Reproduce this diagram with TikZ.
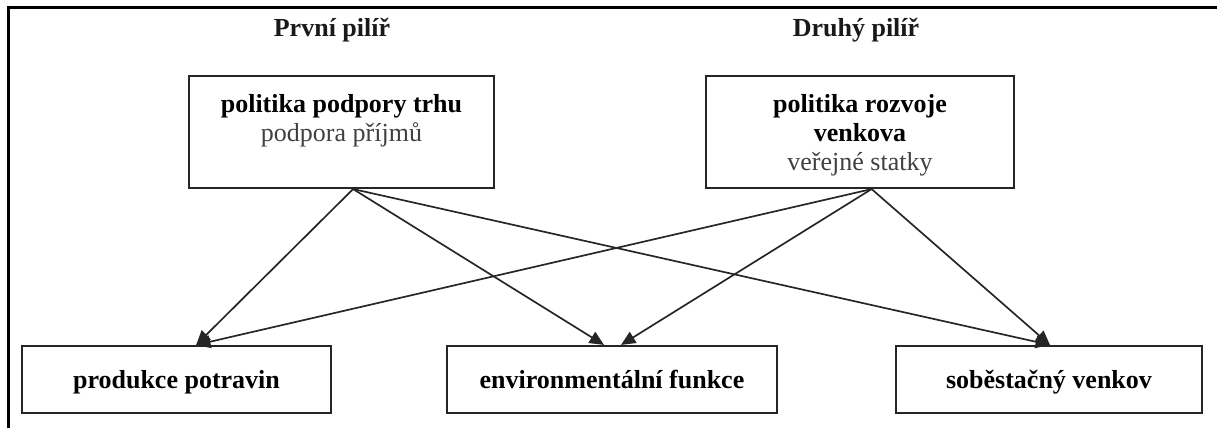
\documentclass[tikz,border=0pt]{standalone}
\usepackage{xcolor}
\usepackage{fontspec}
\setmainfont{Liberation Serif}
\usetikzlibrary{arrows.meta}
\tikzset{>=stealth}
\tikzset{
  box/.style={draw=black!85, line width=1.5pt, inner sep=0pt, font=\fontsize{18.5}{20.5}\selectfont},
  low/.style={minimum height=1.675cm, text height=0.6cm, text depth=0.14cm},
  pillar/.style={font=\fontsize{18.5}{20.5}\selectfont\bfseries, text=black!90},
  link/.style={-{Triangle[length=3.6mm,width=3.2mm]}, line width=1.2pt, draw=black!85},
}

\begin{document}
\begin{tikzpicture}
      \useasboundingbox (0,0) rectangle (30.425,10.7);
      \draw[line width=2.8pt] (0.2125,0) -- (0.2125,10.5125) -- (30.425,10.5125);
      \node[pillar] (prvni) at (8.3,9.95) {První pilíř};
      \node[pillar] (druhy) at (21.4,9.95) {Druhý pilíř};
      \node[box, minimum width=7.625cm] (trh) at (8.5375,7.4)
        {\parbox[c][2.8cm][t]{7.4cm}{\centering\vspace*{0.47cm}\textbf{politika podpory trhu}\\ \textcolor{black!75}{podpora příjmů}}};
      \node[box, minimum width=7.7cm] (venkov) at (21.5,7.4)
        {\parbox[c][2.8cm][t]{7.4cm}{\centering\vspace*{0.47cm}\textbf{politika rozvoje}\\ \textbf{venkova}\\ \textcolor{black!75}{veřejné statky}}};
      \node[box, low, minimum width=7.725cm] (potraviny) at (4.4125,1.2125) {\textbf{produkce potravin}};
      \node[box, low, minimum width=8.25cm] (envi) at (15.3,1.2125) {\textbf{environmentální funkce}};
      \node[box, low, minimum width=7.65cm] (sobest) at (26.225,1.2125) {\textbf{soběstačný venkov}};
      \coordinate (trh-out) at ([xshift=0.29cm]trh.south);
      \coordinate (venkov-out) at ([xshift=0.29cm]venkov.south);
      \draw[link] (trh-out) -- ([xshift=0.49cm]potraviny.north);
      \draw[link] (trh-out) -- ([xshift=-0.2cm]envi.north);
      \draw[link] (trh-out) -- ([xshift=0.025cm]sobest.north);
      \draw[link] (venkov-out) -- ([xshift=0.49cm]potraviny.north);
      \draw[link] (venkov-out) -- ([xshift=0.225cm]envi.north);
      \draw[link] (venkov-out) -- ([xshift=0.025cm]sobest.north);
    \end{tikzpicture}
\end{document}
